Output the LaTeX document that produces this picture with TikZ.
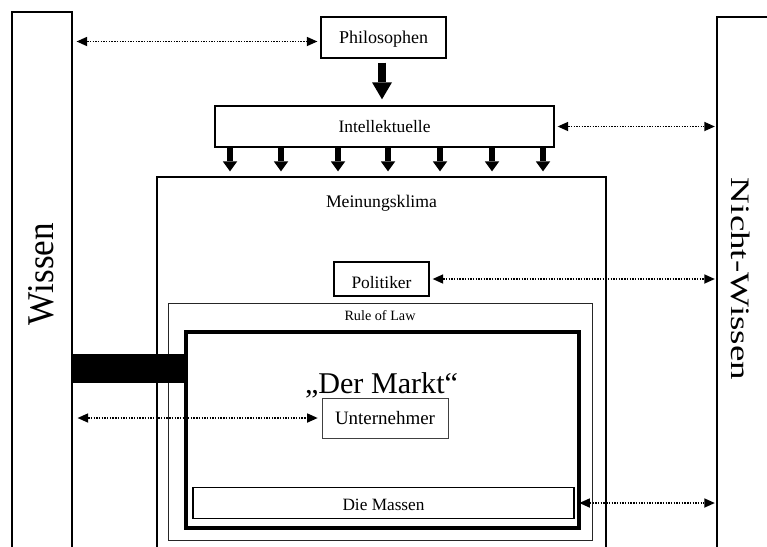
\documentclass[tikz,border=0pt]{standalone}
\usepackage{fontspec}
\setmainfont{Liberation Serif}
\usepackage{graphicx}
\usetikzlibrary{arrows.meta}
\newcommand{\fitw}[2]{\resizebox{#1}{!}{#2}}
\begin{document}
\begin{tikzpicture}[x=1pt,y=-1pt,
  box/.style={draw, inner sep=0pt, line width=1.4pt, text depth=0pt, font=\fontsize{16}{19}\selectfont},
  lbl/.style={inner sep=0pt, text depth=0pt, font=\fontsize{16}{19}\selectfont},
  dotarrow/.style={line width=1.4pt, dash pattern=on 1.4pt off 1.3pt,
    {Triangle[length=10.5pt,width=9.5pt,line width=0pt]}-{Triangle[length=10.5pt,width=9.5pt,line width=0pt]}},
  fatarrow/.style={line width=6pt, -{Triangle[length=10pt,width=14.5pt,line width=0pt]}},
  bigarrow/.style={line width=8.5pt, -{Triangle[length=17pt,width=20pt,line width=0pt]}}]
\useasboundingbox (0,0) rectangle (767,546);
\clip (0,0) rectangle (767,546);
\fill[white] (0,0) rectangle (767,546);

% side boxes
\node[draw, line width=1.3pt, minimum width=60pt, minimum height=600pt] (wissenbox) at (42,312) {};
\node[draw, line width=2.5pt, minimum width=100pt, minimum height=600pt] (nwbox) at (767,317) {};
\node[rotate=90, inner sep=0pt] (wissen) at (41,274) {\resizebox{102pt}{25pt}{Wissen}};
\node[rotate=-90, inner sep=0pt] (nichtwissen) at (741,279) {\resizebox{202pt}{18.5pt}{Nicht-Wissen}};

% top boxes
\node[box, minimum width=125pt, minimum height=41pt] (phil) at (383.5,37.5) {\fitw{89pt}{Philosophen}};
\node[box, minimum width=339pt, minimum height=41pt] (intel) at (384.5,126.5) {\fitw{92pt}{Intellektuelle}};

% nested boxes
\node[draw, line width=1.3pt, minimum width=449pt, minimum height=450pt] (mein) at (381.5,402) {};
\node[lbl] (meintext) at (381.5,201) {\fitw{111pt}{Meinungsklima}};
\node[box, minimum width=95pt, minimum height=34pt] (pol) at (381.5,279) {};
\node[lbl] (poltext) at (381.5,282) {\fitw{60pt}{Politiker}};
\node[draw, line width=1pt, draw=black!85, minimum width=424pt, minimum height=237pt] (rol) at (380,421.5) {};
\node[lbl] (roltext) at (380,315.5) {\fitw{71pt}{Rule of Law}};
\node[draw, line width=3.2pt, minimum width=393pt, minimum height=196pt] (markt) at (382.5,430) {};
\node[inner sep=0pt, anchor=base, font=\fontsize{27}{32}\selectfont] (markttext) at (381.5,393) {\fitw{153pt}{„Der Markt“}};
\node[box, line width=0.8pt, draw=black!75, minimum width=126pt, minimum height=40pt] (unter) at (385,418) {\fitw{100pt}{Unternehmer}};
\node[box, line width=1.8pt, minimum width=381pt, minimum height=31pt] (massen) at (383.5,503) {};
\node[lbl] (massentext) at (383.5,504.5) {\fitw{82pt}{Die Massen}};

% black bar
\coordinate (barY) at (0,368.5);
\draw[line width=29pt] (wissenbox.east |- barY) -- (markt.west |- barY);

% thick arrows
\coordinate (bigx) at (382,0);
\draw[bigarrow, shorten <=4pt, shorten >=6pt] (phil.south -| bigx) -- (intel.north -| bigx);
\foreach \x in {230,281,338,388,440,492,543}
  \draw[fatarrow, shorten >=5pt] (intel.south -| \x,0) -- (mein.north -| \x,0);

% dotted arrows
\draw[dotarrow, shorten <=4pt, shorten >=3pt] (wissenbox.east |- 0,41.5) -- ([yshift=-4pt]phil.west);
\draw[dotarrow, shorten <=3pt, shorten >=1pt] (intel.east) -- (nwbox.west |- intel.east);
\draw[dotarrow, shorten <=3pt, shorten >=1pt] (pol.east) -- (nwbox.west |- pol.east);
\draw[dotarrow, shorten <=5pt, shorten >=4pt] (wissenbox.east |- unter.west) -- (unter.west);
\draw[dotarrow, shorten <=4.5pt, shorten >=1pt] (massen.east) -- (nwbox.west |- massen.east);
\end{tikzpicture}
\end{document}
